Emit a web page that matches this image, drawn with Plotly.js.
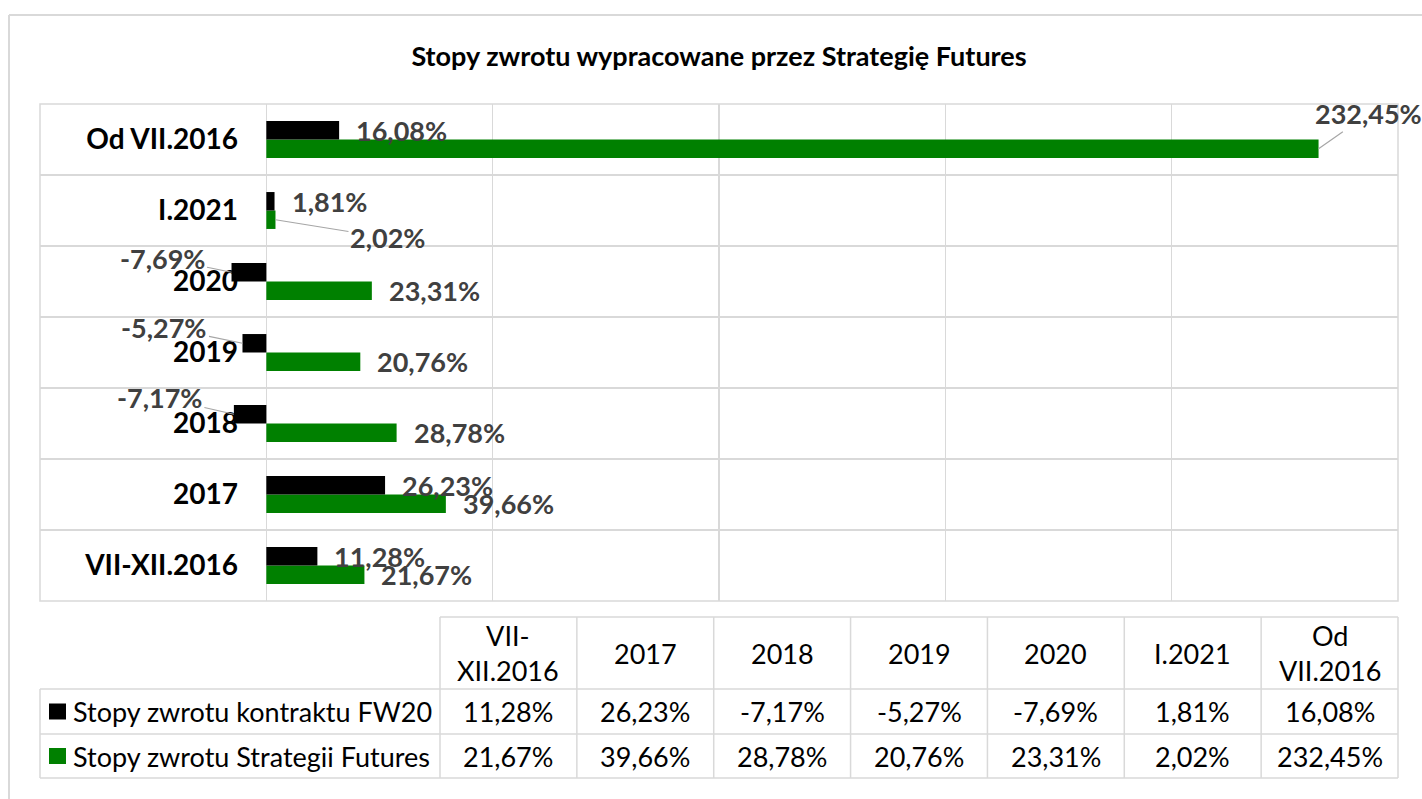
<!DOCTYPE html>
<html>
<head>
<meta charset="utf-8">
<script src="https://cdn.plot.ly/plotly-3.0.1.min.js"></script>
<style>
  html, body { margin: 0; padding: 0; background: #ffffff; }
  #chart { width: 1422px; height: 799px; }
</style>
</head>
<body>
<div id="chart"></div>
<script>
// ---- data ----
const categories = ['VII-XII.2016', '2017', '2018', '2019', '2020', 'I.2021', 'Od VII.2016'];
const headerLabels = ['VII-<br>XII.2016', '2017', '2018', '2019', '2020', 'I.2021', 'Od<br>VII.2016'];
const seriesNames = ['Stopy zwrotu kontraktu FW20', 'Stopy zwrotu Strategii Futures'];
const fw20 = [11.28, 26.23, -7.17, -5.27, -7.69, 1.81, 16.08];
const strategy = [21.67, 39.66, 28.78, 20.76, 23.31, 2.02, 232.45];
const chartTitle = 'Stopy zwrotu wypracowane przez Strategię Futures';

// ---- styling / geometry ----
const W = 1422, H = 799;
const L = 40, R = 1398, T = 104, B = 601;
const FONT = 'Lato, "Open Sans", sans-serif';
const BLACK = '#000000', GREEN = '#008000', GRID = '#d9d9d9', LABEL = '#404040';
const px = p => (p - L) / (R - L);
const py = p => (B - p) / (B - T);
const fmt = v => v.toFixed(2).replace('.', ',') + '%';

const barHalf = 9.25; // pixel offset of each bar's centre from category centre
// leader-line label placements (pixel offsets of label from bar end)
const leaders = {
  fw20: {2: [-74, -17], 3: [-78, -16], 4: [-69, -14]},
  strategy: {5: [112, 18], 6: [50, -35]}
};

const traces = [
  {type: 'bar', orientation: 'h', name: seriesNames[1], y: categories, x: strategy,
   marker: {color: GREEN}, hoverinfo: 'skip'},
  {type: 'bar', orientation: 'h', name: seriesNames[0], y: categories, x: fw20,
   marker: {color: BLACK}, hoverinfo: 'skip'}
];

const annotations = [];
function addLabels(values, key, yshift) {
  values.forEach((v, i) => {
    const lead = leaders[key][i];
    const base = {
      x: v, y: i, xref: 'x', yref: 'y', yshift: yshift,
      text: '<b>' + fmt(v) + '</b>',
      font: {family: FONT, size: 27, color: LABEL}
    };
    if (lead) {
      Object.assign(base, {showarrow: true, arrowhead: 0, arrowwidth: 1.2,
        arrowcolor: '#a6a6a6', ax: lead[0], ay: lead[1], axref: 'pixel', ayref: 'pixel',
        standoff: 0});
    } else {
      Object.assign(base, {showarrow: false, xanchor: 'left', xshift: 15});
    }
    annotations.push(base);
  });
}
addLabels(fw20, 'fw20', barHalf);
addLabels(strategy, 'strategy', -barHalf);

// ---- data table below ----
const shapes = [];
const line = (x0, y0, x1, y1, w) => shapes.push({type: 'line', xref: 'paper', yref: 'paper',
  x0: px(x0), y0: py(y0), x1: px(x1), y1: py(y1), line: {color: GRID, width: w || 1.5}});

// chart area border (cut by page)
line(9, 15, 1430, 15, 2);
line(9, 15, 9, 810, 2);
// plot area border
shapes.push({type: 'rect', xref: 'paper', yref: 'paper', x0: 0, y0: 0, x1: 1, y1: 1,
  line: {color: GRID, width: 1.5}, layer: 'below'});

const tabL = 440, tabTop = 617, rowY = [617, 689, 734, 778];
const colW = (R - tabL) / categories.length;
line(tabL, tabTop, R, tabTop);
for (let r = 1; r < rowY.length; r++) line(L, rowY[r], R, rowY[r]);
for (let c = 0; c <= categories.length; c++) line(tabL + c * colW, tabTop, tabL + c * colW, rowY[3]);
line(L, rowY[1], L, rowY[3]);

const tFont = {family: FONT, size: 27, color: '#000000'};
headerLabels.forEach((h, c) => {
  annotations.push({xref: 'paper', yref: 'paper', x: px(tabL + (c + 0.5) * colW),
    y: py((rowY[0] + rowY[1]) / 2), text: h, showarrow: false, font: tFont,
    xanchor: 'center', yanchor: 'middle'});
});
[fw20, strategy].forEach((vals, r) => {
  const yc = (rowY[r + 1] + rowY[r + 2]) / 2;
  vals.forEach((v, c) => {
    annotations.push({xref: 'paper', yref: 'paper', x: px(tabL + (c + 0.5) * colW),
      y: py(yc), text: fmt(v), showarrow: false, font: tFont,
      xanchor: 'center', yanchor: 'middle'});
  });
  annotations.push({xref: 'paper', yref: 'paper', x: px(71), y: py(yc),
    text: seriesNames[r], showarrow: false, font: tFont, xanchor: 'left', yanchor: 'middle'});
  shapes.push({type: 'rect', xref: 'paper', yref: 'paper',
    x0: px(49), x1: px(66), y0: py(yc - 8), y1: py(yc + 8),
    fillcolor: r === 0 ? BLACK : GREEN, line: {width: 0}});
});

const layout = {
  width: W, height: H,
  margin: {l: L, r: W - R, t: T, b: H - B, pad: 0},
  paper_bgcolor: '#ffffff', plot_bgcolor: '#ffffff',
  showlegend: false,
  barmode: 'group', bargap: 0.48, bargroupgap: 0,
  title: {text: '<b>' + chartTitle + '</b>', xref: 'paper', x: 0.5, xanchor: 'center',
    yref: 'container', y: 1 - 57 / H, yanchor: 'middle',
    font: {family: FONT, size: 27, color: '#000000'}},
  xaxis: {range: [-50, 250], autorange: false, dtick: 50, tick0: 0, showgrid: true,
    gridcolor: GRID, gridwidth: 1.5,
    zeroline: true, zerolinecolor: GRID, zerolinewidth: 1.5,
    showticklabels: false, showline: false, ticks: '', fixedrange: true},
  yaxis: {type: 'category', categoryorder: 'array', categoryarray: categories,
    range: [-0.5, categories.length - 0.5], autorange: false,
    tickson: 'boundaries', showgrid: true, gridcolor: GRID, gridwidth: 1.5,
    anchor: 'free', position: px(266), showline: false, ticks: '',
    ticklabelstandoff: 28,
    tickfont: {family: FONT, size: 28, color: '#000000', weight: 'bold'},
    fixedrange: true},
  annotations: annotations,
  shapes: shapes
};

Plotly.newPlot('chart', traces, layout, {staticPlot: true, displayModeBar: false});
</script>
</body>
</html>
